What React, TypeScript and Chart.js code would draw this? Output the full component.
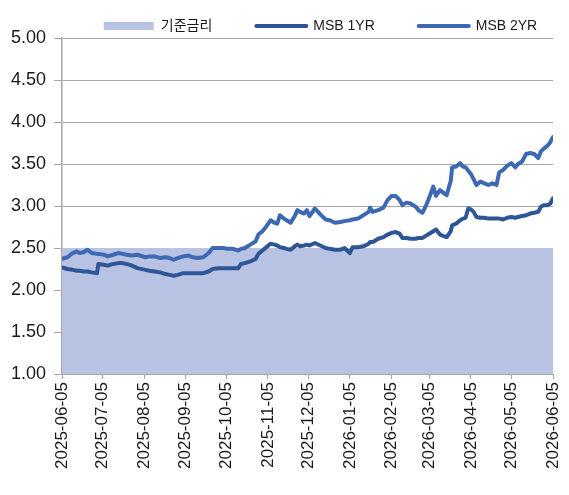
import React, { useEffect, useRef } from "react";
import { Chart, registerables } from "chart.js";

Chart.register(...registerables);

// Month tick labels on the x axis
const tickLabels = [
  "2025-06-05", "2025-07-05", "2025-08-05", "2025-09-05", "2025-10-05",
  "2025-11-05", "2025-12-05", "2026-01-05", "2026-02-05", "2026-03-05",
  "2026-04-05", "2026-05-05", "2026-06-05",
];

// Observation days (days since 2025-06-05)
const dayOffset = [
  0, 4, 8, 11, 13, 16, 19, 22, 26, 27,
  31, 34, 38, 42, 45, 48, 52, 56, 62, 65,
  69, 73, 77, 80, 83, 86, 90, 94, 97, 101,
  105, 109, 112, 116, 120, 123, 127, 131, 133, 136,
  140, 144, 146, 149, 152, 155, 158, 160, 162, 165,
  167, 170, 173, 175, 177, 180, 182, 184, 188, 192,
  196, 199, 203, 207, 210, 214, 216, 220, 224, 228,
  229, 231, 235, 239, 242, 245, 248, 251, 253, 256,
  259, 263, 265, 268, 271, 273, 276, 278, 281, 284,
  286, 289, 290, 293, 296, 298, 300, 302, 304, 306,
  308, 311, 314, 317, 320, 323, 325, 328, 331, 334,
  337, 339, 342, 345, 348, 351, 354, 356, 358, 361,
  363, 365,
];

const msb2yr = [
  2.37, 2.39, 2.44, 2.46, 2.44, 2.45, 2.48, 2.44, 2.43, 2.43,
  2.42, 2.40, 2.42, 2.44, 2.43, 2.42, 2.41, 2.42, 2.39, 2.40,
  2.40, 2.38, 2.39, 2.38, 2.36, 2.38, 2.40, 2.41, 2.39, 2.38,
  2.39, 2.44, 2.50, 2.50, 2.50, 2.49, 2.49, 2.47, 2.49, 2.50,
  2.54, 2.58, 2.66, 2.70, 2.76, 2.83, 2.80, 2.79, 2.89, 2.85,
  2.83, 2.80, 2.88, 2.95, 2.93, 2.91, 2.95, 2.88, 2.97, 2.90,
  2.84, 2.83, 2.80, 2.81, 2.82, 2.83, 2.84, 2.85, 2.89, 2.93,
  2.98, 2.93, 2.95, 2.98, 3.07, 3.12, 3.12, 3.07, 3.01, 3.04,
  3.03, 2.99, 2.95, 2.92, 3.02, 3.10, 3.23, 3.12, 3.19, 3.15,
  3.13, 3.30, 3.46, 3.47, 3.51, 3.47, 3.46, 3.42, 3.38, 3.32,
  3.25, 3.29, 3.27, 3.25, 3.27, 3.25, 3.40, 3.43, 3.48, 3.51,
  3.46, 3.50, 3.53, 3.62, 3.63, 3.62, 3.57, 3.65, 3.68, 3.72,
  3.76, 3.82,
];

const msb1yr = [
  2.27, 2.25, 2.24, 2.23, 2.23, 2.22, 2.22, 2.21, 2.20, 2.31,
  2.30, 2.29, 2.31, 2.32, 2.32, 2.31, 2.29, 2.26, 2.24, 2.23,
  2.22, 2.21, 2.19, 2.18, 2.17, 2.18, 2.20, 2.20, 2.20, 2.20,
  2.20, 2.22, 2.25, 2.26, 2.26, 2.26, 2.26, 2.26, 2.31, 2.32,
  2.34, 2.37, 2.43, 2.47, 2.51, 2.55, 2.54, 2.53, 2.51, 2.50,
  2.49, 2.48, 2.52, 2.54, 2.52, 2.53, 2.54, 2.53, 2.56, 2.53,
  2.50, 2.49, 2.48, 2.48, 2.50, 2.44, 2.51, 2.51, 2.52, 2.55,
  2.57, 2.57, 2.61, 2.63, 2.66, 2.68, 2.69, 2.67, 2.62, 2.62,
  2.61, 2.61, 2.62, 2.62, 2.65, 2.67, 2.70, 2.72, 2.66, 2.64,
  2.63, 2.70, 2.77, 2.79, 2.83, 2.85, 2.86, 2.97, 2.96, 2.93,
  2.87, 2.86, 2.86, 2.85, 2.85, 2.85, 2.85, 2.84, 2.86, 2.87,
  2.86, 2.87, 2.88, 2.89, 2.91, 2.92, 2.93, 2.99, 3.01, 3.01,
  3.03, 3.09,
];

// Base rate (기준금리), constant over the period
const baseRateDays = [0, 365];
const baseRate = [2.5, 2.5];

const yTicks = [1.0, 1.5, 2.0, 2.5, 3.0, 3.5, 4.0, 4.5, 5.0];

const START = Date.UTC(2025, 5, 5);
const toDay = (s: string) => {
  const [y, m, d] = s.split("-").map(Number);
  return Math.round((Date.UTC(y, m - 1, d) - START) / 86400000);
};
const tickDays = tickLabels.map(toDay);

const FILL = "#B8C2E2";
const C1 = "#2E5597";
const C2 = "#3D68B3";
const GRID = "#A6A6A6";
const TEXT = "#1a1a1a";
const FONT = "'Liberation Sans', 'Noto Sans CJK KR', sans-serif";

const legendShift = {
  id: "legendShift",
  afterLayout(chart: any) {
    const lg = chart.legend;
    if (lg) {
      lg.left += 44;
      lg.right += 44;
      lg.top -= 25;
    }
  },
};

export default function App() {
  const ref = useRef<HTMLCanvasElement | null>(null);

  useEffect(() => {
    if (!ref.current) return;
    const chart = new Chart(ref.current, {
      type: "line",
      data: {
        datasets: [
          {
            label: "기준금리",
            data: baseRateDays.map((d, i) => ({ x: d, y: baseRate[i] })),
            borderWidth: 0,
            borderColor: FILL,
            backgroundColor: FILL,
            fill: "start",
            pointRadius: 0,
            tension: 0,
          },
          {
            label: "MSB 1YR",
            data: dayOffset.map((d, i) => ({ x: d, y: msb1yr[i] })),
            borderColor: C1,
            borderWidth: 4,
            fill: false,
            pointRadius: 0,
            tension: 0,
            borderJoinStyle: "round",
            borderCapStyle: "round",
          },
          {
            label: "MSB 2YR",
            data: dayOffset.map((d, i) => ({ x: d, y: msb2yr[i] })),
            borderColor: C2,
            borderWidth: 4,
            fill: false,
            pointRadius: 0,
            tension: 0,
            borderJoinStyle: "round",
            borderCapStyle: "round",
          },
        ],
      },
      options: {
        animation: false,
        responsive: true,
        maintainAspectRatio: false,
        layout: { padding: { left: 0, right: 16, top: 0, bottom: 0 } },
        plugins: {
          filler: { drawTime: "beforeDatasetsDraw" },
          tooltip: { enabled: false },
          legend: {
            position: "top",
            fullSize: true,
            maxHeight: 38,
            labels: {
              usePointStyle: true,
              pointStyleWidth: 50,
              boxHeight: 8,
              padding: 44,
              color: TEXT,
              font: { family: FONT, size: 14 },
              generateLabels: (ch: any) =>
                ch.data.datasets.map((ds: any, i: number) => ({
                  text: ds.label,
                  fillStyle: i === 0 ? FILL : ds.borderColor,
                  strokeStyle: i === 0 ? FILL : ds.borderColor,
                  lineWidth: i === 0 ? 0 : 4,
                  lineCap: "round",
                  pointStyle: i === 0 ? "rect" : "line",
                  hidden: false,
                  datasetIndex: i,
                  fontColor: TEXT,
                })),
            },
          },
        },
        scales: {
          x: {
            type: "linear",
            min: 0,
            max: 365,
            afterBuildTicks: (scale: any) => {
              scale.ticks = tickDays.map((v) => ({ value: v }));
            },
            afterFit: (scale: any) => {
              scale.height = 121;
              scale.paddingLeft = 0;
              scale.paddingRight = 0;
            },
            grid: {
              drawOnChartArea: false,
              drawTicks: true,
              tickLength: 5,
              color: GRID,
            },
            border: { display: true, color: GRID, width: 1 },
            ticks: {
              autoSkip: false,
              maxRotation: 90,
              minRotation: 90,
              padding: 3,
              color: TEXT,
              font: { family: FONT, size: 17 },
              callback: (v: any) => {
                const idx = tickDays.indexOf(Number(v));
                return idx >= 0 ? tickLabels[idx] : "";
              },
            },
          },
          y: {
            type: "linear",
            min: 1,
            max: 5,
            afterBuildTicks: (scale: any) => {
              scale.ticks = yTicks.map((v) => ({ value: v }));
            },
            afterFit: (scale: any) => {
              scale.width = 62;
            },
            grid: {
              color: GRID,
              lineWidth: 1,
              tickLength: 8,
            },
            border: { display: true, color: GRID, width: 1.5 },
            ticks: {
              padding: 8,
              color: TEXT,
              font: { family: FONT, size: 18 },
              callback: (v: any) => Number(v).toFixed(2),
            },
          },
        },
      },
      plugins: [legendShift],
    } as any);
    return () => chart.destroy();
  }, []);

  return (
    <div style={{ position: "absolute", left: 0, top: 0, width: 569, height: 495 }}>
      <canvas ref={ref} />
    </div>
  );
}
